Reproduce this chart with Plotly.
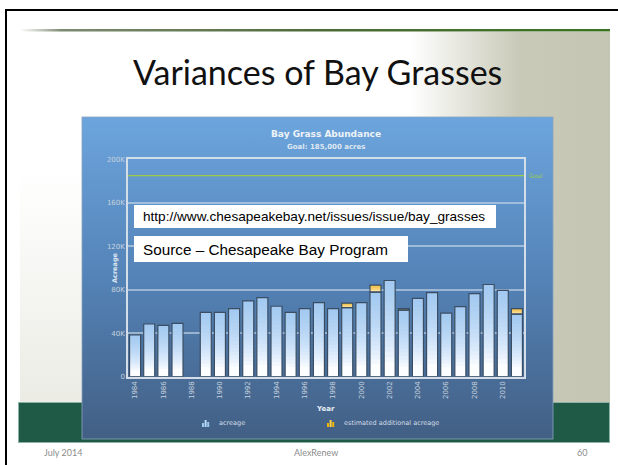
import base64
import plotly.graph_objects as go

# ---- data (acres) ----
years = list(range(1984, 2012))
acreage = [38500, 48500, 47300, 49100, None, 59100, 59100, 62700, 69700, 72700,
           64800, 59100, 62700, 68200, 62700, 63600, 68200, 77800, 88500, 61200,
           72100, 77300, 58500, 64500, 76400, 84800, 79400, 57600]
estimated = [None] * 15 + [4000, None, 6500, None, 1500] + [None] * 7 + [5100]
GOAL = 185000
y_ticks = [0, 40000, 80000, 120000, 160000, 200000]
y_labels = ["0", "40K", "80K", "120K", "160K", "200K"]
x_ticks = list(range(1984, 2011, 2))

W, H = 618, 465


def px(x):
    return x / W


def py(y):
    return 1 - y / H


BAR_W = 0.78
fig = go.Figure()

# acreage bars: white base, stacked translucent layers give a top-to-bottom fade
fig.add_trace(go.Bar(x=years, y=acreage, width=BAR_W, marker_color="#fcfdff",
                     marker_line_width=0, showlegend=False, hoverinfo="skip"))
N_BLUE = 16
for k in range(N_BLUE):
    f = 0.15 + 0.85 * k / N_BLUE
    fig.add_trace(go.Bar(
        x=years,
        y=[None if v is None else v * (1 - f) for v in acreage],
        base=[None if v is None else v * f for v in acreage],
        width=BAR_W, marker_color="rgba(128,184,236,0.075)", marker_line_width=0,
        showlegend=False, hoverinfo="skip"))

# estimated additional acreage stacked on top
est_base = [a if e is not None else None for a, e in zip(acreage, estimated)]
fig.add_trace(go.Bar(x=years, y=estimated, base=est_base, width=BAR_W,
                     marker_color="#fff6cc", marker_line_width=0,
                     showlegend=False, hoverinfo="skip"))
N_YEL = 8
for k in range(N_YEL):
    f = k / N_YEL
    fig.add_trace(go.Bar(
        x=years,
        y=[None if e is None else e * (1 - f) for e in estimated],
        base=[None if e is None else b + e * f for b, e in zip(est_base, estimated)],
        width=BAR_W, marker_color="rgba(240,170,20,0.14)", marker_line_width=0,
        showlegend=False, hoverinfo="skip"))

# outlines
fig.add_trace(go.Bar(x=years, y=acreage, width=BAR_W, marker_color="rgba(0,0,0,0)",
                     marker_line=dict(color="#3a4d63", width=1.2),
                     name="acreage", showlegend=False))
fig.add_trace(go.Bar(x=years, y=estimated, base=est_base, width=BAR_W,
                     marker_color="rgba(0,0,0,0)",
                     marker_line=dict(color="#3a4d63", width=1.2),
                     name="estimated additional acreage", showlegend=False))

# ---- slide decoration (gradients) ----
svg = """<svg xmlns="http://www.w3.org/2000/svg" width="618" height="465" viewBox="0 0 618 465">
<defs>
<linearGradient id="grass" x1="0" y1="0" x2="1" y2="0">
<stop offset="0" stop-color="#c8c9b7" stop-opacity="0"/>
<stop offset="0.55" stop-color="#c8c9b7" stop-opacity="1"/>
<stop offset="1" stop-color="#c4c5b2" stop-opacity="1"/>
</linearGradient>
<linearGradient id="grassL" x1="0" y1="0" x2="0" y2="1">
<stop offset="0" stop-color="#dedfd3" stop-opacity="0"/>
<stop offset="1" stop-color="#dedfd3" stop-opacity="0.6"/>
</linearGradient>
<linearGradient id="rule" x1="0" y1="0" x2="1" y2="0">
<stop offset="0" stop-color="#7d8a70" stop-opacity="0"/>
<stop offset="0.07" stop-color="#6f7d62" stop-opacity="0.9"/>
<stop offset="0.5" stop-color="#4d6b38"/>
<stop offset="1" stop-color="#3b7220"/>
</linearGradient>
<linearGradient id="panel" x1="0" y1="0" x2="0" y2="1">
<stop offset="0" stop-color="#6ca5dd"/>
<stop offset="0.5" stop-color="#5483b7"/>
<stop offset="1" stop-color="#425f84"/>
</linearGradient>
</defs>
<rect x="410" y="32" width="200" height="370" fill="url(#grass)"/>
<rect x="20" y="170" width="62" height="232" fill="url(#grassL)"/>
<rect x="20" y="29" width="590" height="2.5" fill="url(#rule)"/>
<rect x="18.5" y="402.5" width="591" height="40" fill="#1e5a46" stroke="#8db3a8" stroke-width="1"/>
<rect x="82" y="117" width="471" height="322" fill="url(#panel)" stroke="#8aa3bd" stroke-width="0.8"/>
</svg>"""
bg_src = "data:image/svg+xml;base64," + base64.b64encode(svg.encode()).decode()

shapes = [
    # slide frame
    dict(type="rect", xref="paper", yref="paper", x0=px(5), x1=px(618), y0=py(9), y1=py(11),
         fillcolor="black", line_width=0),
    dict(type="rect", xref="paper", yref="paper", x0=px(5), x1=px(7), y0=py(9), y1=py(465),
         fillcolor="black", line_width=0),
    # goal line
    dict(type="line", xref="x domain", yref="y", x0=0, x1=1, y0=GOAL, y1=GOAL,
         line=dict(color="#9ccb48", width=1.2)),
    # white caption boxes
    dict(type="rect", xref="paper", yref="paper", x0=px(134), x1=px(496), y0=py(205), y1=py(228),
         fillcolor="white", line_width=0, layer="above"),
    dict(type="rect", xref="paper", yref="paper", x0=px(134), x1=px(408), y0=py(236), y1=py(262),
         fillcolor="white", line_width=0, layer="above"),
]


# legend glyphs (small bar icons)
def glyph(x0, y_bot, colors):
    out = []
    for i, (h, c) in enumerate(zip([4, 7, 5], colors)):
        out.append(dict(type="rect", xref="paper", yref="paper",
                        x0=px(x0 + i * 2.6), x1=px(x0 + i * 2.6 + 2),
                        y0=py(y_bot), y1=py(y_bot - h), fillcolor=c, line_width=0))
    return out


shapes += glyph(202, 427, ["#9ccaf0", "#b8dcf8", "#9ccaf0"])
shapes += glyph(327, 427, ["#f0b400", "#ffd24a", "#f0b400"])

CF = "DejaVu Sans"
annotations = [
    dict(text="Variances of Bay Grasses", x=px(317), y=py(71), xref="paper", yref="paper",
         showarrow=False, font=dict(family="Lato", size=34, color="#111111"),
         xanchor="center", yanchor="middle"),
    dict(text="<b>Bay Grass Abundance</b>", x=px(326), y=py(134), xref="paper", yref="paper",
         showarrow=False, font=dict(family=CF, size=9, color="#eef3f8"),
         xanchor="center", yanchor="middle"),
    dict(text="<b>Goal: 185,000 acres</b>", x=px(326), y=py(147), xref="paper", yref="paper",
         showarrow=False, font=dict(family=CF, size=7, color="#dfe8f2"),
         xanchor="center", yanchor="middle"),
    dict(text="Goal", x=px(527), y=GOAL, xref="paper", yref="y", showarrow=False,
         font=dict(family=CF, size=6, color="#9acb50"), xanchor="left", yanchor="middle"),
    dict(text="<b>Acreage</b>", x=px(115), y=py(268), xref="paper", yref="paper",
         showarrow=False, textangle=-90, font=dict(family=CF, size=6.5, color="#dfe8f2"),
         xanchor="center", yanchor="middle"),
    dict(text="<b>Year</b>", x=px(326), y=py(409), xref="paper", yref="paper",
         showarrow=False, font=dict(family=CF, size=7, color="#e6edf4"),
         xanchor="center", yanchor="middle"),
    dict(text="acreage", x=px(217), y=py(423), xref="paper", yref="paper",
         showarrow=False, font=dict(family=CF, size=6.5, color="#d2dde8"),
         xanchor="left", yanchor="middle"),
    dict(text="estimated additional acreage", x=px(342), y=py(423), xref="paper", yref="paper",
         showarrow=False, font=dict(family=CF, size=6.5, color="#d2dde8"),
         xanchor="left", yanchor="middle"),
    dict(text="http://www.chesapeakebay.net/issues/issue/bay_grasses", x=px(141), y=py(216.5),
         xref="paper", yref="paper", showarrow=False,
         font=dict(family="Liberation Sans", size=13.6, color="black"),
         xanchor="left", yanchor="middle"),
    dict(text="Source – Chesapeake Bay Program", x=px(141), y=py(249.5),
         xref="paper", yref="paper", showarrow=False,
         font=dict(family="Liberation Sans", size=15.3, color="black"),
         xanchor="left", yanchor="middle"),
    dict(text="July 2014", x=px(42), y=py(452), xref="paper", yref="paper", showarrow=False,
         font=dict(family="Lato", size=9, color="#8c8c8c"), xanchor="left", yanchor="middle"),
    dict(text="AlexRenew", x=px(316), y=py(452), xref="paper", yref="paper", showarrow=False,
         font=dict(family="Lato", size=9, color="#8c8c8c"), xanchor="center", yanchor="middle"),
    dict(text="60", x=px(589), y=py(452), xref="paper", yref="paper", showarrow=False,
         font=dict(family="Lato", size=9, color="#8c8c8c"), xanchor="right", yanchor="middle"),
]

fig.update_layout(
    width=W, height=H,
    margin=dict(l=0, r=0, t=0, b=0),
    paper_bgcolor="white",
    plot_bgcolor="rgba(0,0,0,0)",
    barmode="overlay",
    showlegend=False,
    images=[dict(source=bg_src, xref="paper", yref="paper", x=0, y=1, sizex=1, sizey=1,
                 xanchor="left", yanchor="top", sizing="stretch", layer="below")],
    shapes=shapes,
    annotations=annotations,
    xaxis=dict(
        domain=[px(128), px(524)], range=[1983.5, 2011.5],
        tickmode="array", tickvals=x_ticks, ticktext=[str(t) for t in x_ticks],
        tickangle=-90, tickfont=dict(family=CF, size=7, color="#c6d2de"),
        showgrid=False, zeroline=False,
        showline=True, mirror=True, linecolor="#d3dee9", linewidth=1.5,
        ticks="", automargin=False,
    ),
    yaxis=dict(
        domain=[py(376.7), py(159.3)], range=[0, 200000],
        tickmode="array", tickvals=y_ticks, ticktext=y_labels,
        tickfont=dict(family=CF, size=7, color="#c6d2de"),
        showgrid=True, gridcolor="rgba(205,220,235,0.6)", gridwidth=1.5,
        zeroline=False,
        showline=True, mirror=True, linecolor="#d3dee9", linewidth=1.5,
        ticks="", automargin=False,
    ),
)

fig.write_html("out.html")
